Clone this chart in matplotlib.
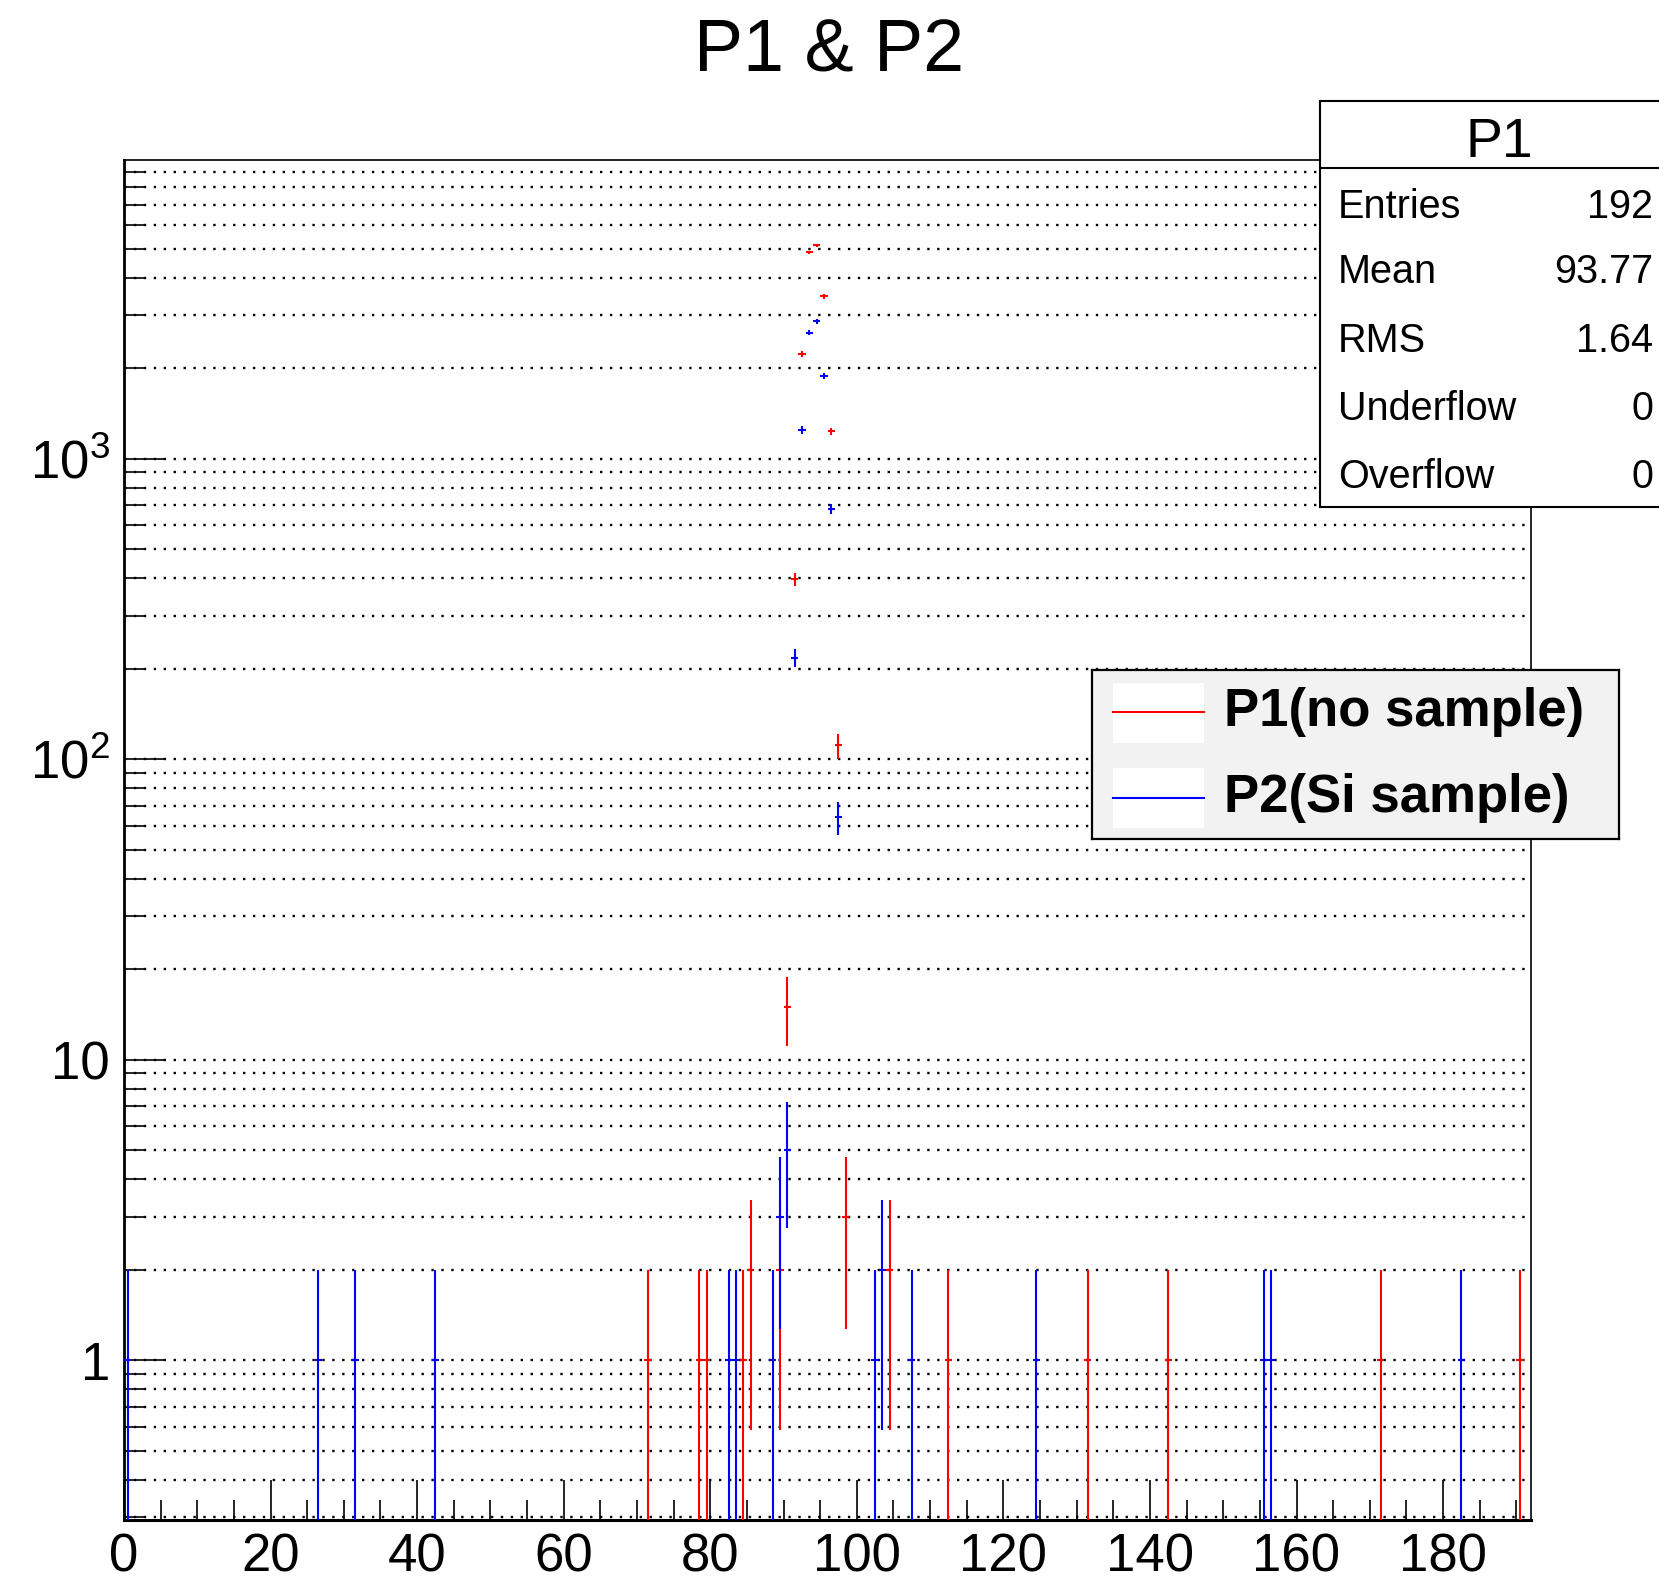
import numpy as np
import matplotlib
matplotlib.use("Agg")
import matplotlib.pyplot as plt
from matplotlib.ticker import MultipleLocator, LogLocator, NullFormatter
from matplotlib.patches import Rectangle
from matplotlib.lines import Line2D

plt.rcParams["font.family"] = ["Liberation Sans", "DejaVu Sans"]
plt.rcParams["mathtext.fontset"] = "custom"
plt.rcParams["mathtext.rm"] = "Liberation Sans"

# bin low edges (width 1) and counts
p1_bins = [71, 78, 79, 84, 85, 89, 90, 91, 92, 93, 94, 95, 96, 97, 98,
           104, 112, 131, 142, 171, 190]
p1_counts = [1, 1, 1, 1, 2, 2, 15, 396, 2233, 4853, 5120, 3465, 1231, 111, 3,
             2, 1, 1, 1, 1, 1]

p2_bins = [0, 26, 31, 42, 82, 83, 88, 89, 90, 91, 92, 93, 94, 95, 96, 97,
           102, 103, 107, 124, 155, 156, 182]
p2_counts = [1, 1, 1, 1, 1, 1, 1, 3, 5, 217, 1244, 2622, 2868, 1886, 679, 64,
             1, 2, 1, 1, 1, 1, 1]

legend_labels = ["P1(no sample)", "P2(Si sample)"]
stats_names = ["Entries", "Mean", "RMS", "Underflow", "Overflow"]
stats_values = ["192", "93.77", "1.64", "0", "0"]

W, H = 1659, 1585
fig = plt.figure(figsize=(W / 100, H / 100), dpi=100)


def fx(px):
    return px / W


def fy(py):
    return 1 - py / H


ax = fig.add_axes([fx(124), fy(1520), fx(1531) - fx(124), fy(160) - fy(1520)])


def draw_hist(bins, counts, color):
    x = np.asarray(bins, float) + 0.5
    y = np.asarray(counts, float)
    err = np.sqrt(y)
    lo = np.maximum(y - err, 1e-3)
    ax.errorbar(x, y, xerr=0.5, yerr=[y - lo, err], fmt="none",
                ecolor=color, elinewidth=1.5, capsize=0, zorder=3)


draw_hist(p1_bins, p1_counts, "#ff0000")
draw_hist(p2_bins, p2_counts, "#0000ff")

ax.set_yscale("log")
ax.set_xlim(0, 192)
ax.set_ylim(0.294, 9850)

ax.xaxis.set_major_locator(MultipleLocator(20))
ax.xaxis.set_minor_locator(MultipleLocator(5))
ax.set_yticks([1, 10, 100, 1000],
              labels=["1", "10", r"$\mathdefault{10^{2}}$", r"$\mathdefault{10^{3}}$"])
ax.yaxis.set_minor_locator(LogLocator(base=10, subs=np.arange(2, 10)))
ax.yaxis.set_minor_formatter(NullFormatter())

ax.tick_params(axis="both", which="both", direction="in", colors="black",
               top=False, right=False, width=1.2)
ax.tick_params(axis="both", which="major", length=29, labelsize=38)
ax.tick_params(axis="both", which="minor", length=14.5)
ax.tick_params(axis="x", which="major", pad=9)
ax.tick_params(axis="y", which="major", pad=10)

ax.yaxis.grid(True, which="both", color="black", linestyle=(0, (1, 3.2)),
              linewidth=1.7)
ax.xaxis.grid(False)
ax.set_axisbelow(True)

ax.spines["left"].set_linewidth(2.0)
ax.spines["bottom"].set_linewidth(2.2)
ax.spines["top"].set_linewidth(1.2)
ax.spines["right"].set_linewidth(1.2)

fig.text(0.5, fy(71), "P1 & P2", ha="center", va="baseline", fontsize=53)

# stats box (runs off the right edge like the original)
sx0, sx1, sy0, sy1 = 1320, 1678, 101, 507
sax = fig.add_axes([fx(sx0), fy(sy1), fx(sx1) - fx(sx0), fy(sy0) - fy(sy1)])
sax.set_xlim(0, 1)
sax.set_ylim(0, 1)
sax.set_xticks([])
sax.set_yticks([])
sax.set_facecolor("white")
for s in sax.spines.values():
    s.set_linewidth(1.5)
sax.axhline(0.835, color="black", linewidth=1.5)
sax.text(0.5, 0.8628, "P1", ha="center", va="baseline", fontsize=40)
row_base = [0.711, 0.551, 0.3825, 0.2143, 0.046]
for name, val, yb in zip(stats_names, stats_values, row_base):
    sax.text(0.05, yb, name, ha="left", va="baseline", fontsize=28.5)
    sax.text(0.93, yb, val, ha="right", va="baseline", fontsize=28.5)

# legend
lx0, lx1, ly0, ly1 = 1092, 1619, 670, 839
lax = fig.add_axes([fx(lx0), fy(ly1), fx(lx1) - fx(lx0), fy(ly0) - fy(ly1)])
lax.set_xlim(0, 1)
lax.set_ylim(0, 1)
lax.set_xticks([])
lax.set_yticks([])
lax.set_facecolor("#f2f2f2")
for s in lax.spines.values():
    s.set_linewidth(1.6)
entries = [("#ff0000", 0.568, 0.923, 0.751, 0.669),
           ("#0000ff", 0.065, 0.420, 0.243, 0.160)]
for (col, b0, b1, yl, yt), lab in zip(entries, legend_labels):
    lax.add_patch(Rectangle((0.04, b0), 0.1725, b1 - b0, facecolor="white",
                            edgecolor="none"))
    lax.add_line(Line2D([0.04, 0.2125], [yl, yl], color=col, linewidth=1.5))
    lax.text(0.2505, yt, lab, ha="left", va="baseline", fontsize=38,
             fontweight="bold")

fig.savefig("out.png", dpi=100)
